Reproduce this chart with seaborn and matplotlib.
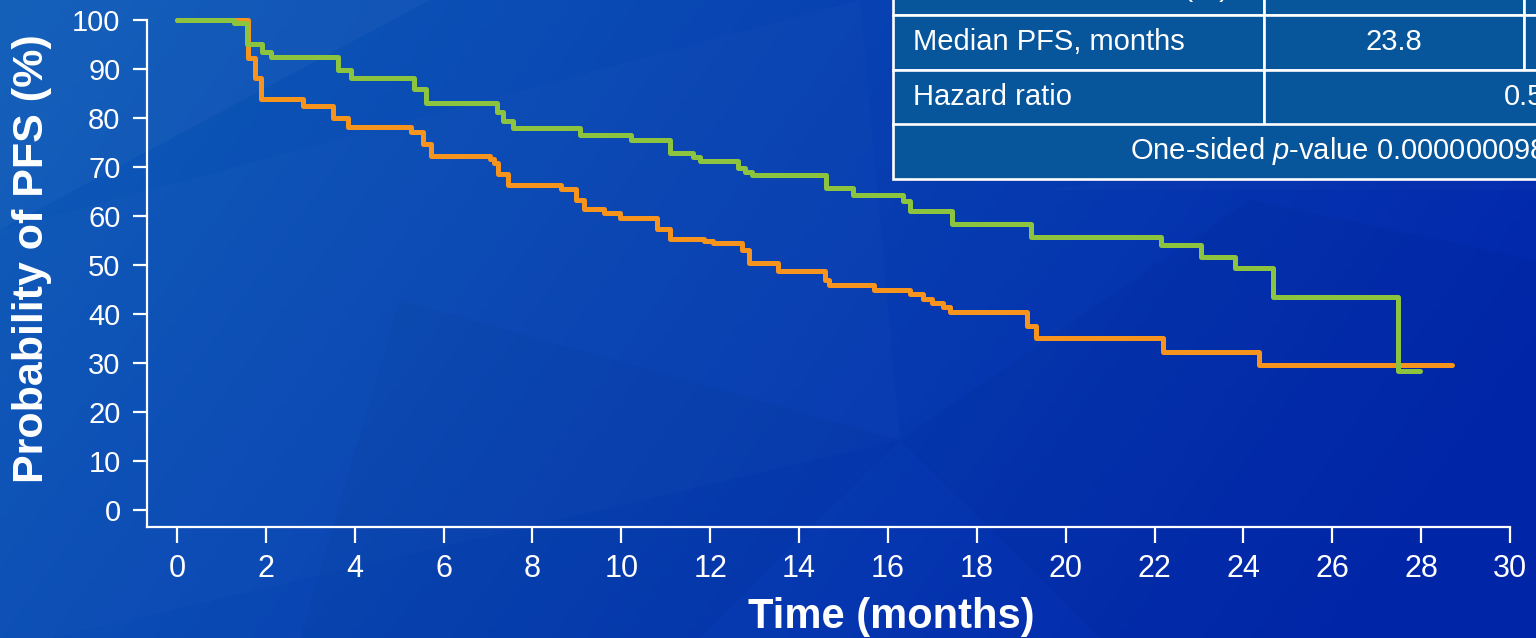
import matplotlib
matplotlib.use('Agg')
import matplotlib.pyplot as plt
import numpy as np
import pandas as pd
import seaborn as sns
from matplotlib.patches import Rectangle, Polygon

# KM steps: time (months) and PFS (%) after each step
green_time = [0, 1.28, 1.58, 1.91, 2.12, 3.62, 3.92, 5.33, 5.60, 7.20, 7.34, 7.56,
              9.07, 10.22, 11.10, 11.62, 11.78, 12.63, 12.78, 12.93, 14.60, 15.22,
              16.35, 16.50, 17.45, 19.22, 22.15, 23.05, 23.80, 24.67, 27.48, 27.98]
green_pfs = [100, 99.2, 95.1, 93.3, 92.3, 89.7, 88.1, 85.9, 82.9, 81.1, 79.4, 77.9,
             76.5, 75.4, 72.7, 72.0, 71.2, 69.8, 69.0, 68.2, 65.6, 64.2,
             62.9, 61.0, 58.3, 55.7, 54.0, 51.6, 49.4, 43.5, 28.3, 28.3]

orange_time = [0, 1.60, 1.76, 1.90, 2.84, 3.51, 3.85, 5.26, 5.53, 5.71, 7.05, 7.13,
               7.22, 7.45, 8.64, 8.97, 9.16, 9.60, 9.97, 10.80, 11.10, 11.85, 12.07,
               12.71, 12.88, 13.52, 14.58, 14.68, 15.69, 16.50, 16.80, 17.00, 17.25,
               17.40, 19.14, 19.34, 22.20, 24.35, 28.70]
orange_pfs = [100, 92.1, 88.0, 83.7, 82.4, 79.9, 78.0, 77.0, 74.6, 72.2, 71.5, 70.7,
              68.5, 66.3, 65.4, 63.2, 61.4, 60.6, 59.5, 57.2, 55.2, 54.8, 54.4,
              53.1, 50.3, 48.8, 46.9, 45.9, 44.9, 44.0, 43.0, 42.3, 41.3,
              40.3, 37.6, 35.1, 32.3, 29.6, 29.6]

x_ticks = list(range(0, 31, 2))
y_ticks = list(range(0, 101, 10))

# table (partly outside the slide on the right / top)
table_col1 = ['Number of events, n (%)', 'Median PFS, months', 'Hazard ratio']
table_col2 = ['', '23.8', '0.55']
table_col3 = ['', '13.0', None]
table_footer = r'One-sided $\mathit{p}$-value 0.0000000983'

GREEN = '#8cc43f'
ORANGE = '#f7941e'

sns.set_style('ticks')
plt.rcParams['font.family'] = ['Liberation Sans', 'DejaVu Sans']
plt.rcParams['mathtext.fontset'] = 'custom'
plt.rcParams['mathtext.rm'] = 'Liberation Sans'
plt.rcParams['mathtext.it'] = 'Liberation Sans:italic'

W, H = 1536, 638
fig = plt.figure(figsize=(W / 100, H / 100), dpi=100)

# background: blue gradient with a few faint facets
bg = fig.add_axes([0, 0, 1, 1])
gx, gy = np.meshgrid(np.linspace(0, 1, 400), np.linspace(0, 1, 170))
u = np.clip(0.85 * gx + 0.25 * gy, 0, 1)[..., None]
c0 = np.array([14, 92, 184]) / 255
c1 = np.array([2, 38, 172]) / 255
bg.imshow(c0 * (1 - u) + c1 * u, extent=[0, W, H, 0], aspect='auto', zorder=0)
facets = [
    ([(0, 0), (430, 0), (0, 230)], 'white', 0.03),
    ([(0, 230), (860, 0), (900, 440), (0, 650)], 'white', 0.015),
    ([(400, 300), (900, 440), (700, 638), (300, 638)], 'black', 0.025),
    ([(900, 440), (1250, 200), (1536, 260), (1536, 638), (1100, 638)], 'black', 0.025),
    ([(1050, 190), (1536, 190), (1536, 100)], 'white', 0.015),
]
for pts, col, a in facets:
    bg.add_patch(Polygon(pts, closed=True, facecolor=col, alpha=a, edgecolor='none', zorder=1))
bg.set_xlim(0, W)
bg.set_ylim(H, 0)
bg.axis('off')

# plot area, placed in pixels of the reference
px_left, px_right, px_bottom, px_top = 147, 1510, 527, 9.7
ax = fig.add_axes([px_left / W, 1 - px_bottom / H,
                   (px_right - px_left) / W, (px_bottom - px_top) / H])
ax.patch.set_alpha(0)

df = pd.concat([
    pd.DataFrame({'time': orange_time, 'pfs': orange_pfs, 'arm': 'placebo'}),
    pd.DataFrame({'time': green_time, 'pfs': green_pfs, 'arm': 'ribociclib'}),
])
sns.lineplot(data=df, x='time', y='pfs', hue='arm', hue_order=['placebo', 'ribociclib'],
             palette={'placebo': ORANGE, 'ribociclib': GREEN}, estimator=None, sort=False,
             drawstyle='steps-post', linewidth=3.6, legend=False, ax=ax)

ax.set_xlim(-0.675, 30)
ax.set_ylim(-3.47, 102)
ax.set_xticks(x_ticks)
ax.set_yticks(y_ticks)
for side in ['top', 'right']:
    ax.spines[side].set_visible(False)
for side in ['left', 'bottom']:
    ax.spines[side].set_color('white')
    ax.spines[side].set_linewidth(1.6)
ax.spines['left'].set_bounds(-3.47, 100)
ax.tick_params(axis='y', colors='white', labelsize=21, length=10, width=1.6, pad=9)
ax.tick_params(axis='x', colors='white', labelsize=22, length=11.5, width=1.6, pad=8)

ax.set_xlabel('Time (months)', fontsize=30, fontweight='bold', color='white')
ax.set_ylabel('Probability of PFS (%)', fontsize=31, fontweight='bold', color='white')
ax.xaxis.set_label_coords(0.546, -0.135)
ax.yaxis.set_label_coords(-0.0695, 0.518)

# results table, drawn on the background layer in pixel units
t_left = 892.5
col_w = [371.5, 260, 276]
row_top = [-39.5, 15, 70, 124]
row_h = 54.5
face = '#07569b'
edge = dict(facecolor=face, edgecolor='white', linewidth=1.9, zorder=5)
col_x = [t_left, t_left + col_w[0], t_left + col_w[0] + col_w[1]]
txt = dict(color='white', fontsize=21, va='center', zorder=6)
for i, top in enumerate(row_top[:3]):
    bg.add_patch(Rectangle((col_x[0], top), col_w[0], row_h, **edge))
    bg.text(col_x[0] + 20.5, top + row_h / 2, table_col1[i], ha='left', **txt)
    if table_col3[i] is None:
        bg.add_patch(Rectangle((col_x[1], top), col_w[1] + col_w[2], row_h, **edge))
        bg.text(col_x[1] + (col_w[1] + col_w[2]) / 2, top + row_h / 2, table_col2[i],
                ha='center', **txt)
    else:
        bg.add_patch(Rectangle((col_x[1], top), col_w[1], row_h, **edge))
        bg.add_patch(Rectangle((col_x[2], top), col_w[2], row_h, **edge))
        bg.text(col_x[1] + col_w[1] / 2, top + row_h / 2, table_col2[i], ha='center', **txt)
        bg.text(col_x[2] + col_w[2] / 2, top + row_h / 2, table_col3[i], ha='center', **txt)
bg.add_patch(Rectangle((col_x[0], row_top[3]), sum(col_w), row_h, **edge))
bg.text(col_x[0] + sum(col_w) / 2, row_top[3] + row_h / 2, table_footer, ha='center', **txt)

fig.savefig('out.png', dpi=100)
